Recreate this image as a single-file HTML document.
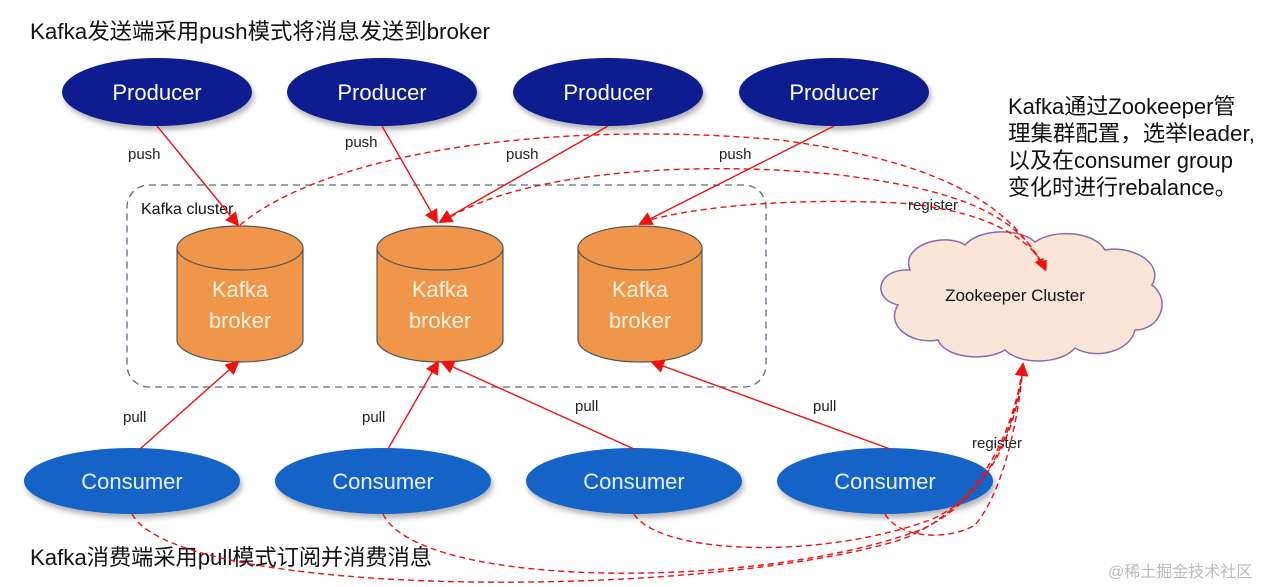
<!DOCTYPE html>
<html><head><meta charset="utf-8"><style>
html,body{margin:0;padding:0;background:#fff;}
svg{display:block;font-family:"Liberation Sans","Noto Sans CJK SC",sans-serif;}
</style></head><body>
<svg width="1268" height="587" viewBox="0 0 1268 587" xmlns="http://www.w3.org/2000/svg">
<defs>
<marker id="ar" markerWidth="10" markerHeight="10" refX="9" refY="5" orient="auto" markerUnits="userSpaceOnUse" viewBox="0 0 10 10">
<path d="M0,0 L10,5 L0,10 z" fill="#f01010"/></marker>
<marker id="arb" markerWidth="14" markerHeight="14" refX="12" refY="7" orient="auto" markerUnits="userSpaceOnUse" viewBox="0 0 14 14">
<path d="M0,0 L14,7 L0,14 z" fill="#f01010"/></marker>
<filter id="sh" x="-20%" y="-20%" width="140%" height="160%"><feDropShadow dx="2" dy="4" stdDeviation="3" flood-color="#000" flood-opacity="0.3"/></filter>
</defs>

<text x="30" y="39" font-size="22" fill="#111" textLength="460" lengthAdjust="spacingAndGlyphs">Kafka发送端采用push模式将消息发送到broker</text>
<text x="30" y="565" font-size="22" fill="#111" textLength="402" lengthAdjust="spacingAndGlyphs">Kafka消费端采用pull模式订阅并消费消息</text>
<text x="1008" y="114" font-size="22" fill="#111">Kafka通过Zookeeper管</text>
<text x="1008" y="141" font-size="22" fill="#111" textLength="247" lengthAdjust="spacingAndGlyphs">理集群配置，选举leader,</text>
<text x="1008" y="168" font-size="22" fill="#111">以及在consumer group</text>
<text x="1008" y="195" font-size="22" fill="#111">变化时进行rebalance。</text>
<text x="1108" y="577" font-size="16" fill="#bbb">@稀土掘金技术社区</text>

<rect x="127" y="185" width="639" height="202" rx="22" fill="none" stroke="#5a6a80" stroke-width="1.3" stroke-dasharray="7,5"/>
<text x="141" y="214" font-size="16" fill="#111">Kafka cluster</text>

<g filter="url(#sh)" fill="#0b1a8e">
<ellipse cx="157" cy="92" rx="95" ry="34"/>
<ellipse cx="382" cy="92" rx="95" ry="34"/>
<ellipse cx="608" cy="92" rx="95" ry="34"/>
<ellipse cx="834" cy="92" rx="95" ry="34"/>
</g>
<g fill="#fff" font-size="22" text-anchor="middle">
<text x="157" y="100">Producer</text><text x="382" y="100">Producer</text>
<text x="608" y="100">Producer</text><text x="834" y="100">Producer</text>
</g>

<g stroke="#555" stroke-width="1.2" fill="#f0964a">
<path d="M177,248 L177,340 A63,22 0 0 0 303,340 L303,248 Z"/>
<ellipse cx="240" cy="248" rx="63" ry="22"/>
<path d="M377,248 L377,340 A63,22 0 0 0 503,340 L503,248 Z"/>
<ellipse cx="440" cy="248" rx="63" ry="22"/>
<path d="M578,248 L578,340 A62,22 0 0 0 702,340 L702,248 Z"/>
<ellipse cx="640" cy="248" rx="62" ry="22"/>
</g>
<g fill="#fff3e0" font-size="22" text-anchor="middle">
<text x="240" y="297">Kafka</text><text x="240" y="328">broker</text>
<text x="440" y="297">Kafka</text><text x="440" y="328">broker</text>
<text x="640" y="297">Kafka</text><text x="640" y="328">broker</text>
</g>

<g filter="url(#sh)" fill="#1464c8">
<ellipse cx="132" cy="481" rx="108" ry="33"/>
<ellipse cx="383" cy="481" rx="108" ry="33"/>
<ellipse cx="634" cy="481" rx="108" ry="33"/>
<ellipse cx="885" cy="481" rx="108" ry="33"/>
</g>
<g fill="#e8f0ff" font-size="22" text-anchor="middle">
<text x="132" y="489">Consumer</text><text x="383" y="489">Consumer</text>
<text x="634" y="489">Consumer</text><text x="885" y="489">Consumer</text>
</g>

<path d="M910,270 C900,245 945,232 965,245 C980,228 1020,228 1035,242 C1055,228 1095,232 1105,250 C1130,245 1165,262 1152,285 C1172,300 1160,330 1135,330 C1130,352 1095,360 1075,348 C1060,365 1020,365 1005,350 C985,362 945,358 938,340 C910,345 885,325 898,305 C870,298 878,268 910,270 Z" fill="#fbe5d6" stroke="#8a6ab0" stroke-width="1.5"/>
<text x="1015" y="301" font-size="17" fill="#111" text-anchor="middle">Zookeeper Cluster</text>

<g stroke="#f01010" stroke-width="1.4" fill="none" marker-end="url(#arb)">
<line x1="157" y1="126" x2="238" y2="225"/>
<line x1="382" y1="126" x2="437" y2="222"/>
<line x1="608" y1="126" x2="440" y2="222"/>
<line x1="834" y1="126" x2="640" y2="224"/>
<line x1="140" y1="449" x2="238" y2="362"/>
<line x1="388" y1="449" x2="438" y2="362"/>
<line x1="634" y1="449" x2="442" y2="362"/>
<line x1="890" y1="449" x2="652" y2="362"/>
</g>
<g font-size="15" fill="#222">
<text x="128" y="159">push</text><text x="345" y="147">push</text>
<text x="506" y="159">push</text><text x="719" y="159">push</text>
<text x="123" y="422">pull</text><text x="362" y="422">pull</text>
<text x="575" y="411">pull</text><text x="813" y="411">pull</text>
<text x="908" y="210">register</text><text x="972" y="448">register</text>
</g>

<g stroke="#f01010" stroke-width="1.4" fill="none" stroke-dasharray="6,4">
<path d="M240,225 C330,150 560,120 780,140 C930,160 1010,200 1043,268" marker-end="url(#ar)"/>
<path d="M442,222 C520,170 700,160 840,175 C960,190 1020,215 1045,270" marker-end="url(#ar)"/>
<path d="M642,222 C700,205 800,198 900,203 C980,210 1030,235 1046,270" marker-end="url(#ar)"/>
<path d="M132,514 C180,600 700,600 900,540 C980,510 1015,430 1023,364" marker-end="url(#arb)"/>
<path d="M383,514 C420,590 760,590 920,530 C990,500 1018,420 1023,364"/>
<path d="M634,514 C660,555 820,560 930,520 C1000,490 1020,410 1023,364"/>
<path d="M885,514 C900,540 950,540 975,525 C1005,490 1020,410 1023,364"/>
</g>
</svg>
</body></html>
